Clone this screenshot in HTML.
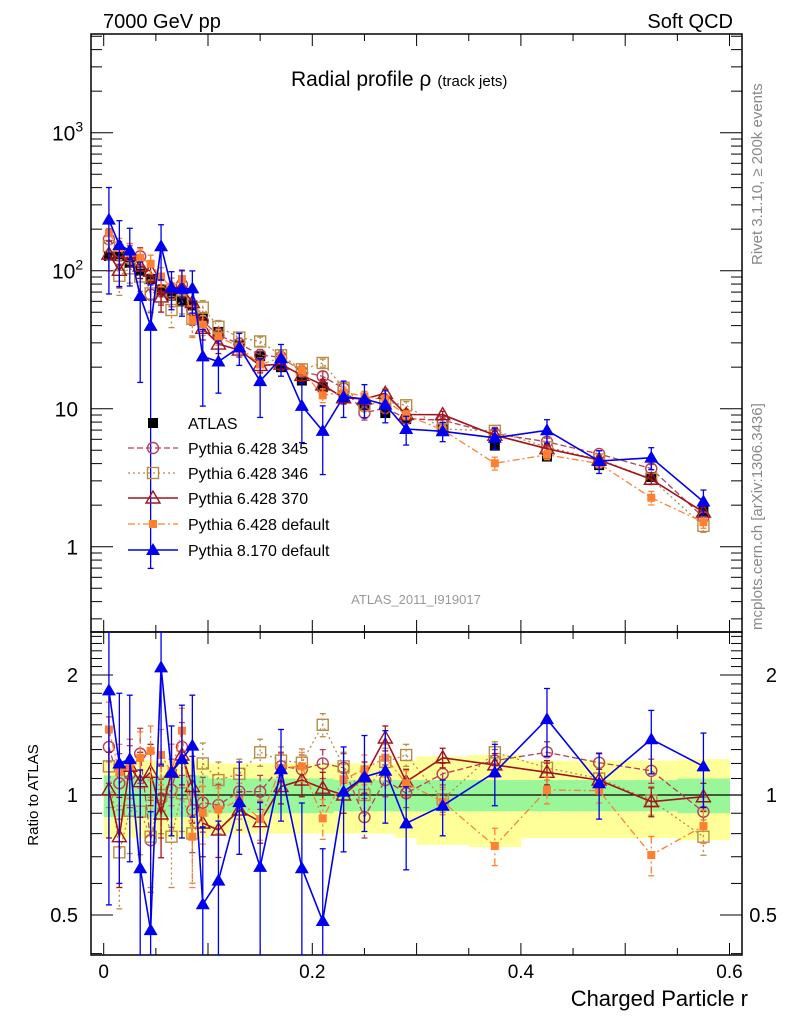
<!DOCTYPE html>
<html><head><meta charset="utf-8"><style>
html,body{margin:0;padding:0;background:#fff;overflow:hidden;width:786px;height:1024px;}
svg{display:block;font-family:"Liberation Sans",Arial,sans-serif;}
</style></head><body>
<svg id="c" width="786" height="1024" viewBox="0 0 786 1024" xmlns="http://www.w3.org/2000/svg">
<defs>
<clipPath id="clipMain"><rect x="91" y="34" width="651" height="598"/></clipPath>
<clipPath id="clipRatio"><rect x="91" y="632" width="651" height="323"/></clipPath>
</defs>
<text x="103" y="28" font-size="20">7000 GeV pp</text>
<text x="733" y="28" font-size="20" text-anchor="end">Soft QCD</text>
<text x="291" y="86" font-size="21">Radial profile<tspan font-size="21"> ρ</tspan><tspan font-size="15" dx="6">(track jets)</tspan></text>
<text x="416" y="604" font-size="13" fill="#999" text-anchor="middle">ATLAS_2011_I919017</text>
<text transform="translate(762,265) rotate(-90)" font-size="15" fill="#888">Rivet 3.1.10, ≥ 200k events</text>
<text transform="translate(762,630) rotate(-90)" font-size="15" fill="#888">mcplots.cern.ch [arXiv:1306.3436]</text>
<text transform="translate(38,795) rotate(-90)" font-size="15" text-anchor="middle">Ratio to ATLAS</text>
<text x="748" y="1006" font-size="22" text-anchor="end">Charged Particle r</text>
<g id="bands" clip-path="url(#clipRatio)"></g>
<g id="axes"></g>
<g id="mainMarks" clip-path="url(#clipMain)"></g>
<g id="ratioMarks" clip-path="url(#clipRatio)"></g>
<g id="legend"></g>
</svg>
<script>
const xs = [0.005,0.015,0.025,0.035,0.045,0.055,0.065,0.075,0.085,0.095,0.11,0.13,0.15,0.17,0.19,0.21,0.23,0.25,0.27,0.29,0.325,0.375,0.425,0.475,0.525,0.575];
const binLo = [0,0.01,0.02,0.03,0.04,0.05,0.06,0.07,0.08,0.09,0.1,0.12,0.14,0.16,0.18,0.2,0.22,0.24,0.26,0.28,0.3,0.35,0.4,0.45,0.5,0.55];
const binHi = [0.01,0.02,0.03,0.04,0.05,0.06,0.07,0.08,0.09,0.1,0.12,0.14,0.16,0.18,0.2,0.22,0.24,0.26,0.28,0.3,0.35,0.4,0.45,0.5,0.55,0.6];
const atlas = [128,128,114,100,87,72,66,60,56,45,36,29,24,20,16,14.3,12,10.6,9.3,8.4,7.3,5.4,4.5,3.9,3.2,1.8];
const atlasErr = [0.04,0.04,0.04,0.04,0.04,0.04,0.04,0.04,0.04,0.04,0.03,0.03,0.03,0.03,0.03,0.03,0.03,0.03,0.03,0.03,0.03,0.03,0.03,0.03,0.03,0.04];
const bandInner = [0.12,0.12,0.12,0.12,0.12,0.12,0.12,0.12,0.12,0.12,0.1,0.1,0.1,0.1,0.1,0.1,0.09,0.09,0.09,0.09,0.09,0.09,0.09,0.09,0.09,0.1];
const bandOuter = [0.22,0.22,0.22,0.22,0.22,0.22,0.22,0.22,0.22,0.22,0.2,0.2,0.2,0.2,0.2,0.2,0.2,0.2,0.2,0.22,0.25,0.26,0.22,0.22,0.22,0.23];
const r345 = [1.32,1.07,1.13,1.27,0.77,0.98,1.03,1.32,0.917,0.957,0.944,1.02,1.02,1.18,1.16,1.2,1.17,0.88,1.09,1.01,1.13,1.22,1.28,1.205,1.15,0.908];
const r346 = [1.18,0.718,0.913,0.908,0.786,1.0,0.786,1.01,0.801,1.2,1.09,1.13,1.28,1.22,1.205,1.5,1.18,1.0,1.21,1.26,0.975,1.28,1.17,1.1,0.97,0.786];
const r370 = [1.03,0.786,1.18,1.08,1.14,0.896,1.14,1.26,1.05,0.85,0.817,0.917,0.857,1.05,1.09,1.04,1.0,1.11,1.39,1.08,1.24,1.19,1.14,1.09,0.962,0.99];
const rDef6 = [1.46,1.14,1.18,1.24,1.29,1.26,1.14,1.45,0.786,0.903,0.92,0.97,0.87,1.17,1.18,0.874,1.095,1.16,1.24,1.07,0.962,0.745,1.03,1.025,0.707,0.836];
const rDef8 = [1.83,1.2,1.23,0.655,0.458,2.09,1.14,1.23,1.33,0.532,0.61,0.96,0.66,1.16,0.655,0.483,1.02,1.11,1.15,0.849,0.94,1.14,1.55,1.07,1.38,1.18];
const errP6 = [0.25,0.2,0.2,0.2,0.2,0.2,0.2,0.2,0.2,0.15,0.12,0.1,0.1,0.1,0.1,0.1,0.1,0.1,0.1,0.08,0.07,0.08,0.08,0.07,0.08,0.08];
const errP8 = [1.3,0.6,0.55,0.5,0.45,0.9,0.35,0.45,0.45,0.3,0.25,0.25,0.3,0.3,0.3,0.25,0.3,0.3,0.3,0.2,0.15,0.2,0.3,0.2,0.25,0.25];
const xTicks = [0,0.2,0.4,0.6];
const xTickLabels = ["0","0.2","0.4","0.6"];
const ratioTicks = [0.5,1,2];
const ratioTickLabels = ["0.5","1","2"];

const NS="http://www.w3.org/2000/svg";
const X0=91,X1=742,YT=34,YM=632,YB=955;
const sx=v=>103.7+v*1043;
const sy=v=>546.7-138*Math.log10(v);
const sr=v=>795-398.6*Math.log10(v);
const clampY=(y,a,b)=>Math.min(Math.max(y,a),b);
function mk(tag,attrs,parent){const e=document.createElementNS(NS,tag);for(const k in attrs)e.setAttribute(k,attrs[k]);parent.appendChild(e);return e;}
const axes=document.getElementById('axes');
const bands=document.getElementById('bands');
const mainG=document.getElementById('mainMarks');
const ratG=document.getElementById('ratioMarks');
const legG=document.getElementById('legend');

for(let i=0;i<xs.length;i++){
  let b=mk('rect',{x:sx(binLo[i]),y:sr(1+bandOuter[i]),width:sx(binHi[i])-sx(binLo[i])+0.5,height:sr(1-bandOuter[i])-sr(1+bandOuter[i]),fill:'#ffff99'},bands);
  
  
}
for(let i=0;i<xs.length;i++){
  let b=mk('rect',{x:sx(binLo[i]),y:sr(1+bandInner[i]),width:sx(binHi[i])-sx(binLo[i])+0.5,height:sr(1-bandInner[i])-sr(1+bandInner[i]),fill:'#99f799'},bands);
  
  
}
let one=mk('line',{x1:X0,x2:X1,y1:sr(1),y2:sr(1),stroke:'#000','stroke-width':1.3},bands);



let f1=mk('rect',{x:X0,y:YT,width:X1-X0,height:YM-YT,fill:'none',stroke:'#000','stroke-width':1.5},axes);


let f2=mk('rect',{x:X0,y:YM,width:X1-X0,height:YB-YM,fill:'none',stroke:'#000','stroke-width':1.5},axes);



for(let k=0;k<=12;k++){
  const v=k*0.05, x=sx(v), L=(k%2==0)?12:7;
  [[YT,YT+L],[YM,YM-L],[YM,YM+L],[YB,YB-L]].forEach(p=>{mk('line',{x1:x,x2:x,y1:p[0],y2:p[1],stroke:'#000','stroke-width':1},axes);});
}
xTicks.forEach((v,i)=>{let t=mk('text',{x:sx(v),y:978,'font-size':19,'text-anchor':'middle'},axes);t.textContent=xTickLabels[i];
  
  });

for(let d=-1;d<=3;d++){for(let m=1;m<=9;m++){const v=m*Math.pow(10,d),y=sy(v);if(y<YT||y>YM)continue;const L=m==1?22:11;
  mk('line',{x1:X0,x2:X0+L,y1:y,y2:y,stroke:'#000','stroke-width':1},axes);
  mk('line',{x1:X1,x2:X1-L,y1:y,y2:y,stroke:'#000','stroke-width':1},axes);}}
const ylab=[[1,"1",""],[10,"10",""],[100,"10","2"],[1000,"10","3"]];
ylab.forEach(a=>{let t=mk('text',{x:a[2]?64:78,y:sy(a[0])+8,'font-size':21,'text-anchor':'end'},axes);t.textContent=a[1];
  if(a[2]){let s=document.createElementNS(NS,'tspan');s.setAttribute('font-size',14);s.setAttribute('dy',-9);s.textContent=a[2];t.appendChild(s);t.setAttribute('x',52);t.setAttribute('text-anchor','start');}
  
  });

for(let v=0.4;v<=2.55;v+=0.1){const vv=Math.round(v*10)/10,y=sr(vv);if(y<YM||y>YB)continue;const L=(vv==0.5||vv==1||vv==2)?22:11;
  mk('line',{x1:X0,x2:X0+L,y1:y,y2:y,stroke:'#000','stroke-width':1},axes);
  mk('line',{x1:X1,x2:X1-L,y1:y,y2:y,stroke:'#000','stroke-width':1},axes);}
ratioTicks.forEach((v,i)=>{
  let t=mk('text',{x:78,y:sr(v)+7,'font-size':20,'text-anchor':'end'},axes);t.textContent=ratioTickLabels[i];
  
  
  let t2=mk('text',{x:777,y:sr(v)+7,'font-size':20,'text-anchor':'end'},axes);t2.textContent=ratioTickLabels[i];
  
  });

function marker(g,type,x,y,col){
  if(type=='sqF')return mk('rect',{x:x-5,y:y-5,width:10,height:10,fill:col},g);
  if(type=='sqS')return mk('rect',{x:x-4,y:y-4,width:8,height:8,fill:col},g);
  if(type=='sqO')return mk('rect',{x:x-5.5,y:y-5.5,width:11,height:11,fill:'none',stroke:col,'stroke-width':1.4},g);
  if(type=='circ')return mk('circle',{cx:x,cy:y,r:5.5,fill:'none',stroke:col,'stroke-width':1.4},g);
  if(type=='triO')return mk('path',{d:`M${x},${y-7}L${x+7},${y+5}L${x-7},${y+5}Z`,fill:'none',stroke:col,'stroke-width':1.4},g);
  if(type=='triF')return mk('path',{d:`M${x},${y-7}L${x+7},${y+5}L${x-7},${y+5}Z`,fill:col},g);
}
const series=[
 {name:'pythia-6428-345',label:'Pythia 6.428 345',r:r345,e:errP6,col:'#b5405a',dash:'6,3',type:'circ',w:1.3},
 {name:'pythia-6428-346',label:'Pythia 6.428 346',r:r346,e:errP6,col:'#b88c46',dash:'2,3',type:'sqO',w:1.3},
 {name:'pythia-6428-370',label:'Pythia 6.428 370',r:r370,e:errP6,col:'#a0141e',dash:'',type:'triO',w:1.6},
 {name:'pythia-6428-default',label:'Pythia 6.428 default',r:rDef6,e:errP6,col:'#ff8030',dash:'7,3,2,3',type:'sqS',w:1.3},
 {name:'pythia-8170-default',label:'Pythia 8.170 default',r:rDef8,e:errP8,col:'#0000ee',dash:'',type:'triF',w:1.6}
];
function drawSeries(g,vals,errs,col,dash,type,w,ymap,nm,ya,yb){
  const sg=mk('g',{},g);
  
  
  let d='';vals.forEach((v,i)=>{d+=(i?'L':'M')+sx(xs[i]).toFixed(1)+','+clampY(ymap(v),ya-20,yb+20).toFixed(1);});
  const ln=mk('path',{d:d,fill:'none',stroke:col,'stroke-width':w,'stroke-dasharray':dash},sg);
  
  
  vals.forEach((v,i)=>{const x=sx(xs[i]);
    const hi=clampY(ymap(v+errs[i]),ya,yb);
    const lo=clampY(ymap(Math.max(v-errs[i],1e-3)),ya,yb);
    mk('line',{x1:x,x2:x,y1:hi,y2:lo,stroke:col,'stroke-width':1.3,'stroke-dasharray':dash},sg);
    mk('line',{x1:x-3,x2:x+3,y1:hi,y2:hi,stroke:col,'stroke-width':1.3},sg);
    mk('line',{x1:x-3,x2:x+3,y1:lo,y2:lo,stroke:col,'stroke-width':1.3},sg);
    const m=marker(sg,type,x,ymap(v),col);
    
    
  });
}
(function(){const g=mk('g',{},mainG);
  
  
  atlas.forEach((v,i)=>{const x=sx(xs[i]);mk('line',{x1:x,x2:x,y1:sy(v*(1+atlasErr[i])),y2:sy(v*(1-atlasErr[i])),stroke:'#000','stroke-width':1.3},g);
    const m=marker(g,'sqF',x,sy(v),'#000');
    
    });})();
series.forEach(s=>{
  const mv=s.r.map((r,i)=>r*atlas[i]);
  const me=s.e.map((e,i)=>e*atlas[i]);
  drawSeries(mainG,mv,me,s.col,s.dash,s.type,s.w,sy,s.name,YT,YM);
  drawSeries(ratG,s.r,s.e,s.col,s.dash,s.type,s.w,sr,s.name+'-ratio',YM,YB);
});
const legY=[423,448,473,498,524,550];
(function(){const m=marker(legG,'sqF',153,legY[0],'#000');
  
  
  const t=mk('text',{x:188,y:legY[0]+6,'font-size':16},legG);t.textContent='ATLAS';
  
  })();
series.forEach((s,k)=>{const y=legY[k+1];
  mk('line',{x1:128,x2:178,y1:y,y2:y,stroke:s.col,'stroke-width':s.w,'stroke-dasharray':s.dash},legG);
  const m=marker(legG,s.type,153,y,s.col);
  
  
  const t=mk('text',{x:188,y:y+6,'font-size':16},legG);t.textContent=s.label;
  
  });
</script>
</body></html>
